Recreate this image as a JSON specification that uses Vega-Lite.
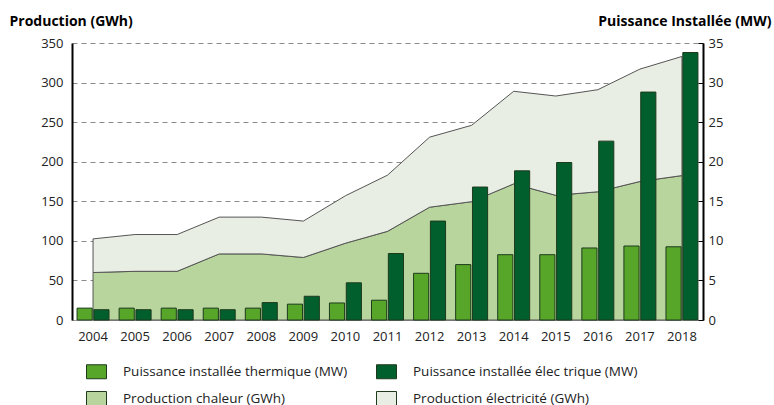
{
  "$schema": "https://vega.github.io/schema/vega-lite/v6.json",
  "autosize": "none",
  "width": 631,
  "height": 277,
  "padding": {"left": 72, "top": 43, "right": 71, "bottom": 85},
  "background": "white",
  "config": {
    "view": {"stroke": null},
    "font": "Open Sans",
    "axis": {"labelFont": "Open Sans", "labelFontSize": 13, "labelColor": "#222", "titleFont": "Open Sans"}
  },
  "datasets": {
    "production": [
      {"annee": "2004", "serie": "Production chaleur (GWh)", "valeur": 60},
      {"annee": "2005", "serie": "Production chaleur (GWh)", "valeur": 61.5},
      {"annee": "2006", "serie": "Production chaleur (GWh)", "valeur": 61.5},
      {"annee": "2007", "serie": "Production chaleur (GWh)", "valeur": 83.5},
      {"annee": "2008", "serie": "Production chaleur (GWh)", "valeur": 83.5},
      {"annee": "2009", "serie": "Production chaleur (GWh)", "valeur": 79},
      {"annee": "2010", "serie": "Production chaleur (GWh)", "valeur": 97},
      {"annee": "2011", "serie": "Production chaleur (GWh)", "valeur": 112},
      {"annee": "2012", "serie": "Production chaleur (GWh)", "valeur": 142.5},
      {"annee": "2013", "serie": "Production chaleur (GWh)", "valeur": 149.5},
      {"annee": "2014", "serie": "Production chaleur (GWh)", "valeur": 172},
      {"annee": "2015", "serie": "Production chaleur (GWh)", "valeur": 157.5},
      {"annee": "2016", "serie": "Production chaleur (GWh)", "valeur": 162},
      {"annee": "2017", "serie": "Production chaleur (GWh)", "valeur": 175},
      {"annee": "2018", "serie": "Production chaleur (GWh)", "valeur": 182.5},
      {"annee": "2004", "serie": "Production électricité (GWh)", "valeur": 42.5},
      {"annee": "2005", "serie": "Production électricité (GWh)", "valeur": 46.5},
      {"annee": "2006", "serie": "Production électricité (GWh)", "valeur": 46.5},
      {"annee": "2007", "serie": "Production électricité (GWh)", "valeur": 46.5},
      {"annee": "2008", "serie": "Production électricité (GWh)", "valeur": 46.5},
      {"annee": "2009", "serie": "Production électricité (GWh)", "valeur": 46},
      {"annee": "2010", "serie": "Production électricité (GWh)", "valeur": 60},
      {"annee": "2011", "serie": "Production électricité (GWh)", "valeur": 71},
      {"annee": "2012", "serie": "Production électricité (GWh)", "valeur": 88.5},
      {"annee": "2013", "serie": "Production électricité (GWh)", "valeur": 96.5},
      {"annee": "2014", "serie": "Production électricité (GWh)", "valeur": 117},
      {"annee": "2015", "serie": "Production électricité (GWh)", "valeur": 125.5},
      {"annee": "2016", "serie": "Production électricité (GWh)", "valeur": 129},
      {"annee": "2017", "serie": "Production électricité (GWh)", "valeur": 142},
      {"annee": "2018", "serie": "Production électricité (GWh)", "valeur": 150.5}
    ],
    "puissance": [
      {"annee": "2004", "serie": "Puissance installée thermique (MW)", "valeur": 1.5},
      {"annee": "2005", "serie": "Puissance installée thermique (MW)", "valeur": 1.5},
      {"annee": "2006", "serie": "Puissance installée thermique (MW)", "valeur": 1.5},
      {"annee": "2007", "serie": "Puissance installée thermique (MW)", "valeur": 1.5},
      {"annee": "2008", "serie": "Puissance installée thermique (MW)", "valeur": 1.5},
      {"annee": "2009", "serie": "Puissance installée thermique (MW)", "valeur": 2},
      {"annee": "2010", "serie": "Puissance installée thermique (MW)", "valeur": 2.15},
      {"annee": "2011", "serie": "Puissance installée thermique (MW)", "valeur": 2.5},
      {"annee": "2012", "serie": "Puissance installée thermique (MW)", "valeur": 5.9},
      {"annee": "2013", "serie": "Puissance installée thermique (MW)", "valeur": 7},
      {"annee": "2014", "serie": "Puissance installée thermique (MW)", "valeur": 8.25},
      {"annee": "2015", "serie": "Puissance installée thermique (MW)", "valeur": 8.25},
      {"annee": "2016", "serie": "Puissance installée thermique (MW)", "valeur": 9.1},
      {"annee": "2017", "serie": "Puissance installée thermique (MW)", "valeur": 9.35},
      {"annee": "2018", "serie": "Puissance installée thermique (MW)", "valeur": 9.25},
      {"annee": "2004", "serie": "Puissance installée élec trique (MW)", "valeur": 1.3},
      {"annee": "2005", "serie": "Puissance installée élec trique (MW)", "valeur": 1.3},
      {"annee": "2006", "serie": "Puissance installée élec trique (MW)", "valeur": 1.3},
      {"annee": "2007", "serie": "Puissance installée élec trique (MW)", "valeur": 1.3},
      {"annee": "2008", "serie": "Puissance installée élec trique (MW)", "valeur": 2.2},
      {"annee": "2009", "serie": "Puissance installée élec trique (MW)", "valeur": 3},
      {"annee": "2010", "serie": "Puissance installée élec trique (MW)", "valeur": 4.7},
      {"annee": "2011", "serie": "Puissance installée élec trique (MW)", "valeur": 8.4},
      {"annee": "2012", "serie": "Puissance installée élec trique (MW)", "valeur": 12.5},
      {"annee": "2013", "serie": "Puissance installée élec trique (MW)", "valeur": 16.8},
      {"annee": "2014", "serie": "Puissance installée élec trique (MW)", "valeur": 18.85},
      {"annee": "2015", "serie": "Puissance installée élec trique (MW)", "valeur": 19.9},
      {"annee": "2016", "serie": "Puissance installée élec trique (MW)", "valeur": 22.6},
      {"annee": "2017", "serie": "Puissance installée élec trique (MW)", "valeur": 28.8},
      {"annee": "2018", "serie": "Puissance installée élec trique (MW)", "valeur": 33.8}
    ]
  },
  "encoding": {
    "x": {
      "field": "annee",
      "type": "ordinal",
      "scale": {"paddingInner": 0.24, "paddingOuter": 0.12},
      "axis": {
        "title": null,
        "labelAngle": 0,
        "ticks": false,
        "domainColor": "#999",
        "domainWidth": 1,
        "labelPadding": 10
      }
    }
  },
  "layer": [
    {
      "data": {"name": "production"},
      "mark": {"type": "area", "stroke": "#555", "strokeWidth": 1, "strokeJoin": "round"},
      "encoding": {
        "y": {
          "field": "valeur",
          "type": "quantitative",
          "stack": "zero",
          "scale": {"domain": [0, 350], "nice": false},
          "axis": {
            "orient": "left",
            "values": [0, 50, 100, 150, 200, 250, 300, 350],
            "grid": true,
            "gridDash": [5, 4],
            "gridColor": "#8a8a8a",
            "gridWidth": 1,
            "ticks": false,
            "domainColor": "#000",
            "domainWidth": 2,
            "labelPadding": 9,
            "title": "Production (GWh)",
            "titleFontSize": 14,
            "titleFontWeight": "bold",
            "titleColor": "#000",
            "titleAngle": 0,
            "titleAlign": "left",
            "titleBaseline": "alphabetic",
            "titleX": -63,
            "titleY": -18
          }
        },
        "color": {
          "field": "serie",
          "type": "nominal",
          "scale": {
            "domain": [
              "Puissance installée thermique (MW)",
              "Puissance installée élec trique (MW)",
              "Production chaleur (GWh)",
              "Production électricité (GWh)"
            ],
            "range": ["#58a629", "#005f2d", "#b8d59d", "#e8eee3"]
          },
          "legend": {
            "title": null,
            "orient": "none",
            "direction": "horizontal",
            "legendX": 14,
            "legendY": 318,
            "columns": 2,
            "columnPadding": 26,
            "rowPadding": 7,
            "padding": 0,
            "symbolType": "M-1,-0.7H1V0.7H-1Z",
            "symbolSize": 400,
            "symbolStrokeColor": "#555",
            "symbolStrokeWidth": 1,
            "symbolOpacity": 1,
            "labelFont": "Open Sans",
            "labelFontSize": 13.5,
            "labelColor": "#222",
            "labelOffset": 16,
            "labelLimit": 320
          }
        },
        "order": {"field": "serie", "sort": "ascending"}
      }
    },
    {
      "data": {"name": "puissance"},
      "mark": {"type": "bar", "stroke": "#1d3a1d", "strokeWidth": 1},
      "encoding": {
        "xOffset": {
          "field": "serie",
          "type": "nominal",
          "scale": {
            "domain": ["Puissance installée thermique (MW)", "Puissance installée élec trique (MW)"],
            "paddingInner": 0.1
          }
        },
        "y": {
          "field": "valeur",
          "type": "quantitative",
          "scale": {"domain": [0, 35], "nice": false},
          "axis": {
            "orient": "right",
            "values": [0, 5, 10, 15, 20, 25, 30, 35],
            "grid": false,
            "ticks": true,
            "tickSize": -5,
            "tickColor": "#000",
            "domainColor": "#000",
            "domainWidth": 2,
            "labelPadding": 10,
            "title": "Puissance Installée (MW)",
            "titleFontSize": 14,
            "titleFontWeight": "bold",
            "titleColor": "#000",
            "titleAngle": 0,
            "titleAlign": "right",
            "titleBaseline": "alphabetic",
            "titleX": 68,
            "titleY": -18
          }
        },
        "color": {"field": "serie", "type": "nominal"}
      }
    }
  ],
  "resolve": {"scale": {"y": "independent"}}
}
